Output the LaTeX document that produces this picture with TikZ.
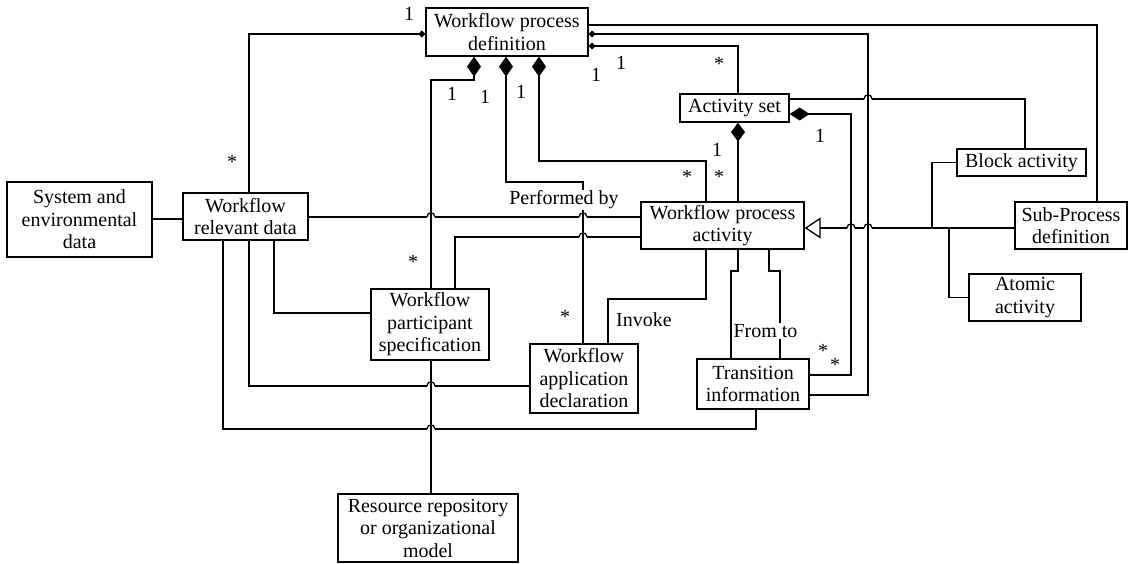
\documentclass[tikz,border=0pt]{standalone}
\usepackage{fontspec}
\setmainfont{Liberation Serif}
\usetikzlibrary{arrows.meta}
% a horizontal line hopping over a vertical one at x=#1, y=#2:
% the line is broken there and a small bridge is drawn over the gap
\newcommand\hop[2]{-- ({#1-4},#2) pic at (#1,#2) {bridge} ({#1+4},#2)}
% the same for a line running right to left
\newcommand\hopl[2]{-- ({#1+4},#2) pic at (#1,#2) {bridge} ({#1-4},#2)}
\begin{document}
\begin{tikzpicture}[x=1pt,y=-1pt,
  every node/.style={font=\fontsize{20}{22.5}\selectfont},
  box/.style={draw,line width=1.3pt,align=center,inner sep=0pt},
  wire/.style={line width=1.3pt},
  bridge/.pic={\draw[wire,-] (-4,0) .. controls (-4,-5.5) and (4,-5.5) .. (4,0);},
  lbl/.style={inner sep=0pt},
  ast/.style={inner sep=0pt,yshift=-4pt},
  tag/.style={fill=white,inner sep=1pt},
  sdia/.style={{Diamond[length=7pt,width=7pt]}-},
  bdia/.style={{Diamond[length=20pt,width=14pt]}-},
  gen/.style={-{Triangle[open,length=16pt,width=21pt]}}]
\useasboundingbox (0,0) rectangle (1131,563);

% classes
\node[box,minimum width=162pt,minimum height=48pt] (wpd) at (507,32) {Workflow process\\definition};
\node[box,minimum width=109pt,minimum height=28pt] (as) at (734.5,108) {Activity set};
\node[box,minimum width=129pt,minimum height=27pt] (ba) at (1021.5,162.5) {Block activity};
\node[box,minimum width=112pt,minimum height=47pt] (spd) at (1071,225.5) {Sub-Process\\definition};
\node[box,minimum width=112pt,minimum height=47pt] (aa) at (1025,297.5) {Atomic\\activity};
\node[box,minimum width=163pt,minimum height=47pt] (wpa) at (722.5,225.5) {Workflow process\\activity};
\node[box,minimum width=145pt,minimum height=75pt] (sys) at (79.5,219.5) {System and\\environmental\\data};
\node[box,minimum width=125pt,minimum height=47pt] (wrd) at (245.5,216.5) {Workflow\\relevant data};
\node[box,minimum width=118pt,minimum height=71pt] (ps) at (430,324.5) {Workflow\\participant\\specification};
\node[box,minimum width=108pt,minimum height=69pt] (wad) at (584,378.5) {Workflow\\application\\declaration};
\node[box,minimum width=112pt,minimum height=50pt] (ti) at (753,384) {Transition\\information};
\node[box,minimum width=180pt,minimum height=68pt] (rr) at (428,528) {Resource repository\\or organizational\\model};

% associations of the process definition
\draw[wire,sdia] (wpd.west |- 0,34) -- (249,34) -- (wrd.north -| 249,0);
\draw[wire] (wpd.east |- 0,25) -- (1097,25) -- (spd.north -| 1097,0);
\draw[wire,sdia] (wpd.east |- 0,34) -- (868,34) -- (868,395) -- (ti.east |- 0,395);
\draw[wire,sdia] (wpd.east |- 0,46) -- (738,46) -- (as.north -| 738,0);
\draw[wire,bdia] (wpd.south -| 474,0) -- (474,80) -- (431,80) -- (ps.north -| 431,0);
\draw[wire,bdia] (wpd.south -| 506,0) -- (506,182) -- (583,182) -- (wad.north -| 583,0);
\draw[wire,bdia] (wpd.south -| 539,0) -- (539,161) -- (706,161) -- (wpa.north -| 706,0);

% activity set
\draw[wire,{Diamond[length=19pt,width=14pt]}-] (as.south -| 738,0) -- (wpa.north -| 738,0);
\draw[wire,{Diamond[length=20pt,width=13pt]}-] (as.east |- 0,114) -- (851,114) -- (851,375) -- (ti.east |- 0,375);
\draw[wire] (as.east |- 0,99) \hop{868}{99} -- (1025,99) -- (ba.north -| 1025,0);

% specialisations of the process activity
\coordinate (j1) at (932,228);
\coordinate (j2) at (949,228);
\draw[wire,gen] (spd.west |- 0,228) \hopl{868}{228} \hopl{851}{228} -- (wpa.east |- 0,228);
\draw[wire] (ba.west) -- (j1 |- ba.west) -- (j1);
\draw[wire] (aa.west) -- (j2 |- aa.west) -- (j2);

% process activity links
\draw[wire] (wpa.south -| 706,0) -- (706,299) -- (608,299) -- (wad.north -| 608,0);
\draw[wire] (wpa.south -| 738,0) -- (738,271) -- (731,271) -- (ti.north -| 731,0);
\draw[wire] (wpa.south -| 769,0) -- (769,271) -- (780,271) -- (ti.north -| 780,0);

% workflow relevant data
\draw[wire] (sys.east |- 0,219) -- (wrd.west |- 0,219);
\draw[wire] (wrd.east |- 0,217) \hop{431}{217} \hop{583}{217} -- (wpa.west |- 0,217);
\draw[wire] (ps.north -| 455,0) -- (455,237) \hop{583}{237} -- (wpa.west |- 0,237);
\draw[wire] (wrd.south -| 274,0) -- (274,313) -- (ps.west |- 0,313);
\draw[wire] (wrd.south -| 249,0) -- (249,386) \hop{431}{386} -- (wad.west |- 0,386);
\draw[wire] (wrd.south -| 223,0) -- (223,429) \hop{431}{429} -- (756,429) -- (ti.south -| 756,0);
\draw[wire] (ps.south -| 431,0) -- (rr.north -| 431,0);

% role labels
\node[tag] (l1) at (564,200) {Performed by};
\node[lbl] (l2) at (644,320) {Invoke};
\node[tag] (l3) at (765.5,331) {From to};

% multiplicities
\node[lbl] (m1) at (409,14) {1};
\node[lbl] (m2) at (452,94) {1};
\node[lbl] (m3) at (485,97) {1};
\node[lbl] (m4) at (521,92) {1};
\node[lbl] (m5) at (596,75) {1};
\node[lbl] (m6) at (621,63) {1};
\node[lbl] (m7) at (820,136) {1};
\node[lbl] (m8) at (717,150) {1};
\node[ast] (s1) at (232,158) {*};
\node[ast] (s2) at (719,60) {*};
\node[ast] (s3) at (687,173) {*};
\node[ast] (s4) at (719,173) {*};
\node[ast] (s5) at (413,258) {*};
\node[ast] (s6) at (565,313) {*};
\node[ast] (s7) at (823,347) {*};
\node[ast] (s8) at (835,361) {*};
\end{tikzpicture}
\end{document}
